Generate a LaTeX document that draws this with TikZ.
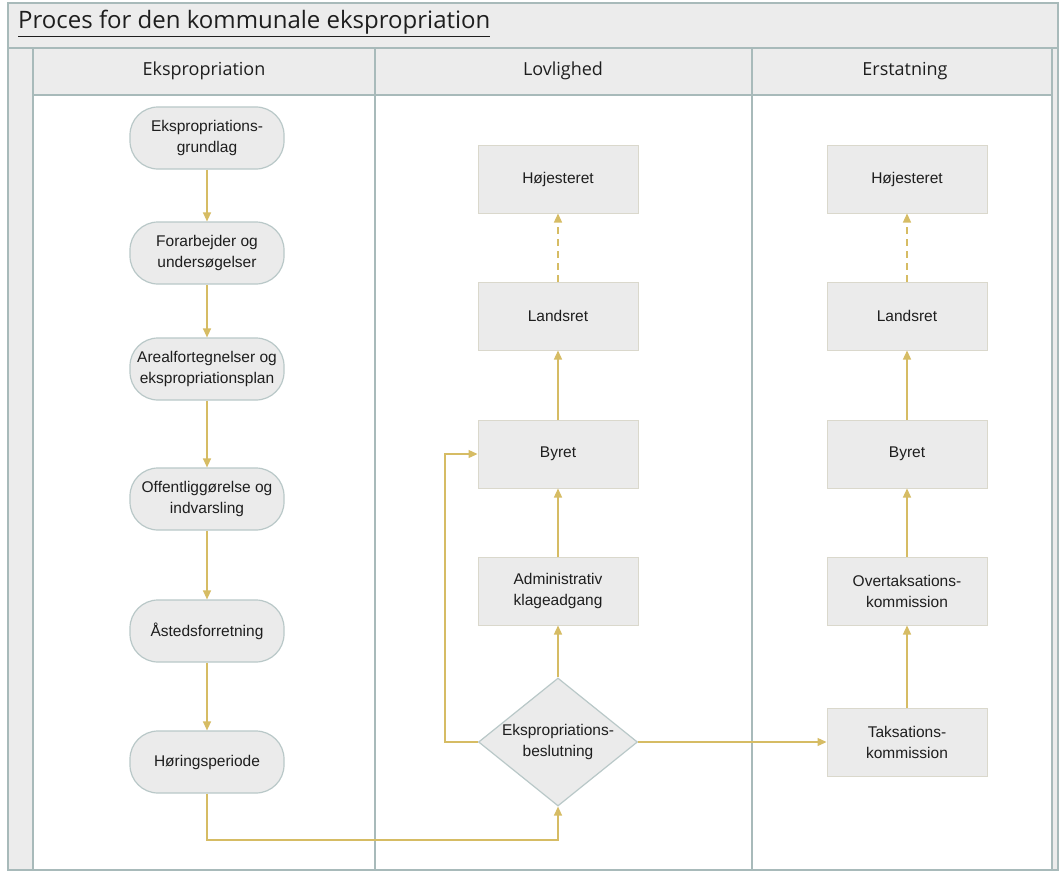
\documentclass[tikz,border=0pt]{standalone}
\usepackage{fontspec}
\setmainfont{Liberation Sans}
\newfontfamily\hdr{Open Sans}
\usetikzlibrary{arrows.meta,shapes.geometric}
\definecolor{lane}{RGB}{168,186,186}
\definecolor{band}{RGB}{236,236,236}
\definecolor{nodefill}{RGB}{235,235,235}
\definecolor{rborder}{RGB}{185,200,200}
\definecolor{sborder}{RGB}{218,216,204}
\definecolor{gold}{RGB}{214,188,100}
\definecolor{txt}{RGB}{30,30,30}
\tikzset{
 rstep/.style={draw=rborder, line width=1.2pt, fill=nodefill, rounded corners=28pt,
   minimum width=154pt, minimum height=62pt, align=center, inner sep=1pt,
   font=\fontsize{15.5}{21}\selectfont, text=txt},
 sbox/.style={draw=sborder, line width=1pt, fill=nodefill, minimum width=160pt,
   minimum height=68pt, align=center, font=\fontsize{15.5}{21}\selectfont, text=txt},
 dec/.style={diamond, aspect=1.24, draw=rborder, line width=1.2pt, fill=nodefill,
   minimum width=159pt, minimum height=128pt, inner sep=-4pt, align=center,
   font=\fontsize{15.5}{21}\selectfont, text=txt},
 flow/.style={draw=gold, line width=1.3pt, -{Triangle[length=9pt,width=8pt]}},
 lanehead/.style={font=\hdr\fontsize{18}{22}\selectfont, text=txt},
 laneline/.style={draw=lane, line width=1.6pt}
}
\begin{document}
\begin{tikzpicture}[x=1pt,y=-1pt]
\useasboundingbox (0,0) rectangle (1064,872);
\fill[white] (0,0) rectangle (1064,872);
% pool background
\fill[band] (8,3) rectangle (1058,870);
\fill[white] (33,95) rectangle (1052,870);
% lines
\draw[laneline] (8,3) rectangle (1058,870);
\draw[laneline] (8,48) -- (1058,48);
\draw[laneline] (33,95) -- (1052,95);
\draw[laneline] (33,48) -- (33,870);
\draw[laneline] (375,48) -- (375,870);
\draw[laneline] (752,48) -- (752,870);
\draw[laneline] (1052,48) -- (1052,870);
% title
\node[anchor=base west, inner sep=0pt, font=\hdr\fontsize{24}{28}\selectfont, text=txt] (title) at (18,29) {\underline{Proces for den kommunale ekspropriation}};
% lane headers
\node[lanehead] (h1) at (204,71) {Ekspropriation};
\node[lanehead] (h2) at (563,71) {Lovlighed};
\node[lanehead] (h3) at (905,71) {Erstatning};
% left column
\node[rstep] (a1) at (207,138) {Ekspropriations-\\grundlag};
\node[rstep] (a2) at (207,253) {Forarbejder og\\undersøgelser};
\node[rstep] (a3) at (207,369) {Arealfortegnelser og\\ekspropriationsplan};
\node[rstep] (a4) at (207,499) {Offentliggørelse og\\indvarsling};
\node[rstep] (a5) at (207,631) {Åstedsforretning};
\node[rstep] (a6) at (207,762) {Høringsperiode};
% middle column
\node[sbox] (b1) at (558,179) {Højesteret};
\node[sbox] (b2) at (558,316) {Landsret};
\node[sbox] (b3) at (558,454) {Byret};
\node[sbox] (b4) at (558,591) {Administrativ\\klageadgang};
\node[dec] (d) at (558,742) {Ekspropriations-\\beslutning};
% right column
\node[sbox] (c1) at (907,179) {Højesteret};
\node[sbox] (c2) at (907,316) {Landsret};
\node[sbox] (c3) at (907,454) {Byret};
\node[sbox] (c4) at (907,591) {Overtaksations-\\kommission};
\node[sbox] (c5) at (907,742) {Taksations-\\kommission};
% connectors
\draw[flow] (a1) -- (a2);
\draw[flow] (a2) -- (a3);
\draw[flow] (a3) -- (a4);
\draw[flow] (a4) -- (a5);
\draw[flow] (a5) -- (a6);
\coordinate (lowturn) at (207,840);
\draw[flow] (a6.south) -- (lowturn) -| (d.south);
\draw[flow] (d.north) -- (b4.south);
\draw[flow] (b4) -- (b3);
\draw[flow] (b3) -- (b2);
\draw[flow, dashed, dash pattern=on 7pt off 5pt] (b2) -- (b1);
\coordinate (leftturn) at (445,742);
\draw[flow] (d.west) -- (leftturn) |- (b3.west);
\draw[flow] (d.east) -- (c5.west);
\draw[flow] (c5) -- (c4);
\draw[flow] (c4) -- (c3);
\draw[flow] (c3) -- (c2);
\draw[flow, dashed, dash pattern=on 7pt off 5pt] (c2) -- (c1);
\end{tikzpicture}
\end{document}
